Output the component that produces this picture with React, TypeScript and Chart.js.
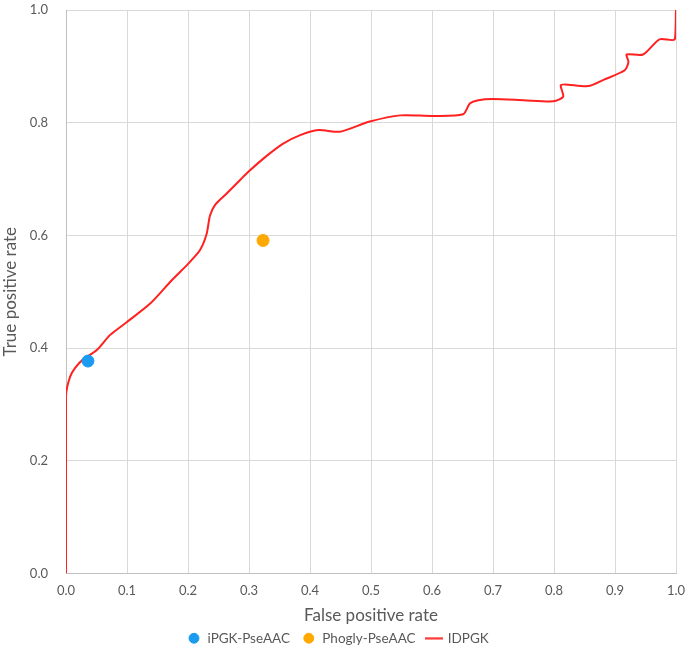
import React, { useEffect, useRef } from "react";
import { Chart, registerables } from "chart.js";

Chart.register(...registerables);

const xTicks = [0, 0.1, 0.2, 0.3, 0.4, 0.5, 0.6, 0.7, 0.8, 0.9, 1.0];
const yTicks = [0, 0.2, 0.4, 0.6, 0.8, 1.0];

const ipgkPoint = { x: 0.036, y: 0.377 };
const phoglyPoint = { x: 0.323, y: 0.591 };

const idpgkFpr = [
  0, 0, 0, 0.0066, 0.015, 0.028, 0.05, 0.072, 0.0995, 0.138, 0.173, 0.2005,
  0.2197, 0.2306, 0.236, 0.245, 0.263, 0.285, 0.299, 0.33, 0.356, 0.384,
  0.414, 0.449, 0.498, 0.548, 0.602, 0.651, 0.662, 0.676, 0.7, 0.75, 0.799,
  0.815, 0.811, 0.818, 0.856, 0.881, 0.916, 0.922, 0.919, 0.946, 0.973,
  0.998, 1.0,
];
const idpgkTpr = [
  0, 0.172, 0.316, 0.349, 0.365, 0.38, 0.396, 0.423, 0.446, 0.479, 0.52,
  0.55, 0.574, 0.603, 0.635, 0.655, 0.674, 0.698, 0.713, 0.742, 0.763,
  0.778, 0.787, 0.784, 0.802, 0.813, 0.812, 0.815, 0.834, 0.84, 0.842, 0.84,
  0.838, 0.846, 0.866, 0.868, 0.865, 0.876, 0.893, 0.908, 0.921, 0.921,
  0.948, 0.948, 1.0,
];

const FONT = "Lato, 'Open Sans', sans-serif";
const GREY = "#595959";

function makeLineSwatch(color: string) {
  const c = document.createElement("canvas");
  c.width = 18;
  c.height = 3;
  const ctx = c.getContext("2d")!;
  ctx.fillStyle = color;
  ctx.fillRect(0, 0.5, 18, 2);
  return c;
}

function zeroPadding(s: any) {
  s.paddingTop = 0;
  s.paddingBottom = 0;
  s.paddingLeft = 0;
  s.paddingRight = 0;
}

export default function App() {
  const ref = useRef<HTMLCanvasElement | null>(null);
  useEffect(() => {
    if (!ref.current) return;
    const lineData = idpgkFpr.map((x, i) => ({ x, y: idpgkTpr[i] }));
    const chart = new Chart(ref.current, {
      type: "scatter",
      data: {
        datasets: [
          {
            label: "iPGK-PseAAC",
            data: [ipgkPoint],
            backgroundColor: "#1a9bf0",
            borderColor: "#1a9bf0",
            pointRadius: 6,
            pointStyle: "circle",
          },
          {
            label: "Phogly-PseAAC",
            data: [phoglyPoint],
            backgroundColor: "#ffa800",
            borderColor: "#ffa800",
            pointRadius: 6,
            pointStyle: "circle",
          },
          {
            label: "IDPGK",
            data: lineData,
            showLine: true,
            borderColor: "#ff2020",
            backgroundColor: "#ff2020",
            borderWidth: 2,
            pointRadius: 0,
            tension: 0.25,
            pointStyle: makeLineSwatch("#ff2020") as any,
          },
        ],
      },
      options: {
        animation: false,
        responsive: true,
        maintainAspectRatio: false,
        layout: { padding: { top: 10, right: 9, left: 0, bottom: 0 } },
        plugins: {
          tooltip: { enabled: false },
          legend: {
            position: "bottom",
            labels: {
              usePointStyle: true,
              boxHeight: 7,
              padding: 12,
              color: GREY,
              font: { family: FONT, size: 13.5 },
            },
          },
        },
        scales: {
          x: {
            type: "linear",
            min: 0,
            max: 1,
            afterBuildTicks: (s: any) => {
              s.ticks = xTicks.map((v) => ({ value: v }));
            },
            afterFit: (s: any) => {
              s.height = 46;
              zeroPadding(s);
            },
            grid: { color: "#d9d9d9", drawTicks: false, lineWidth: 1 },
            border: { color: "#bfbfbf" },
            ticks: {
              padding: 10,
              color: GREY,
              font: { family: FONT, size: 13 },
              callback: (v: any) => Number(v).toFixed(1),
            },
            title: {
              display: true,
              text: "False positive rate",
              color: GREY,
              font: { family: FONT, size: 17 },
              padding: { top: 0, bottom: -6 },
            },
          },
          y: {
            type: "linear",
            min: 0,
            max: 1,
            afterBuildTicks: (s: any) => {
              s.ticks = yTicks.map((v) => ({ value: v }));
            },
            afterFit: (s: any) => {
              s.width = 66;
              zeroPadding(s);
            },
            grid: { color: "#d9d9d9", drawTicks: false, lineWidth: 1 },
            border: { color: "#bfbfbf" },
            ticks: {
              padding: 18,
              color: GREY,
              font: { family: FONT, size: 13 },
              callback: (v: any) => Number(v).toFixed(1),
            },
            title: {
              display: true,
              text: "True positive rate",
              color: GREY,
              font: { family: FONT, size: 17 },
              padding: { top: 0, bottom: 0 },
            },
          },
        },
      },
    });
    return () => chart.destroy();
  }, []);
  return (
    <div
      style={{
        position: "absolute",
        left: 0,
        top: 0,
        width: 685,
        height: 655,
        background: "#fff",
      }}
    >
      <canvas ref={ref} />
    </div>
  );
}
